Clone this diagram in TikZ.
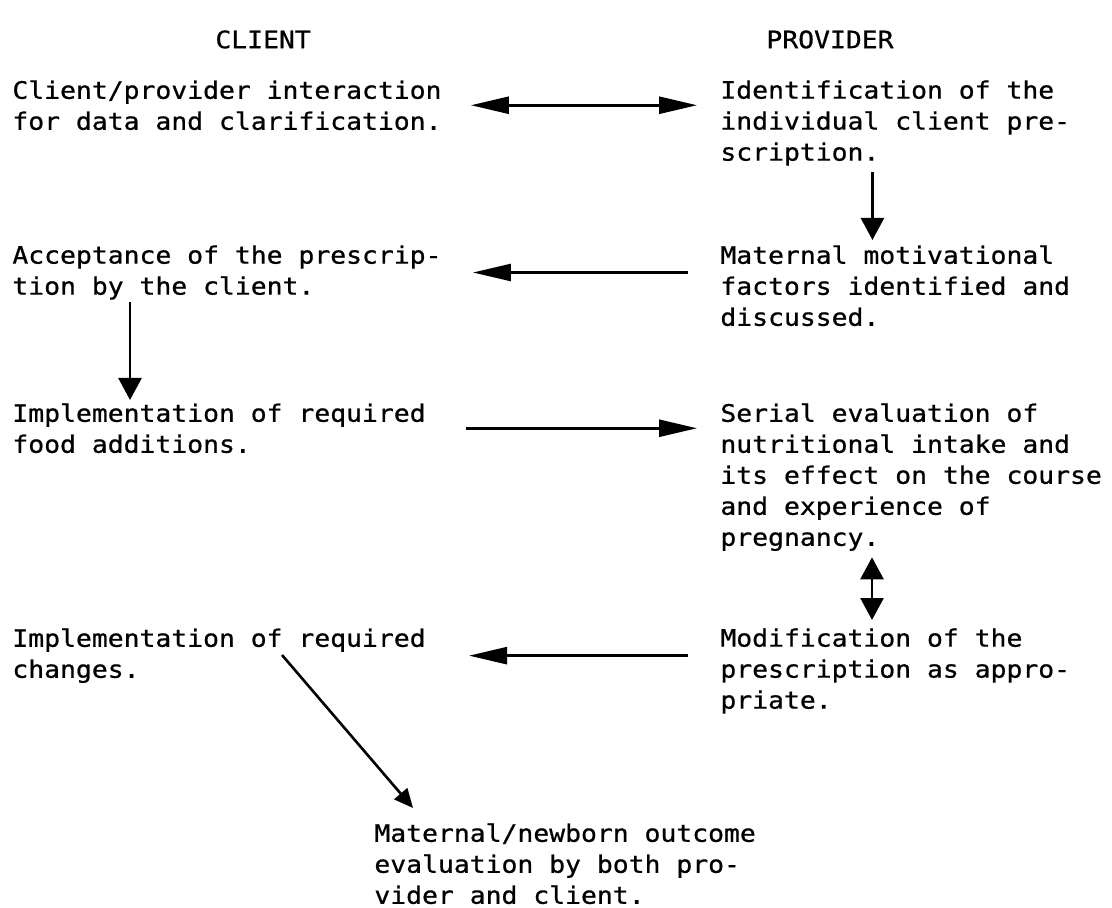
\documentclass[tikz,border=0pt]{standalone}
\usepackage{fontspec}
\newfontfamily\typewr[FakeStretch=1.1,FakeBold=0.8]{DejaVu Sans Mono}
\newcommand\txtfont{\typewr\fontsize{12}{15.5}\selectfont\lineskiplimit=-20pt\relax}
\usetikzlibrary{arrows.meta}
\begin{document}
\begin{tikzpicture}[x = 0.5pt, y = -0.5pt,
        txt/.style = {anchor = north west, inner sep = 0pt, align = left, font = \txtfont},
        harr/.style = {line width = 1.3pt, -{Triangle[length = 19pt, width = 8.5pt]}},
        varr/.style = {line width = 1.3pt, -{Triangle[length = 11pt, width = 11.5pt]}},
        darr/.style = {line width = 1.3pt, -{Triangle[length = 9.5pt, width = 8.5pt]}}]
    \useasboundingbox (0,0) rectangle (1112,908);
    \node[txt] (hcl) at (215,30) {CLIENT};
    \node[txt] (hpr) at (766,30) {PROVIDER};
    \node[txt] (c1) at (12,80) {Client/provider interaction\\for data and clarification.};
    \node[txt] (p1) at (720,80) {Identification of the\\individual client pre-\\scription.};
    \node[txt] (c2) at (12,245) {Acceptance of the prescrip-\\tion by the client.};
    \node[txt] (p2) at (720,245) {Maternal motivational\\factors identified and\\discussed.};
    \node[txt] (c3) at (12,403) {Implementation of required\\food additions.};
    \node[txt] (p3) at (720,403) {Serial evaluation of\\nutritional intake and\\its effect on the course\\and experience of\\pregnancy.};
    \node[txt] (c4) at (12,628) {Implementation of required\\changes.};
    \node[txt] (p4) at (720,628) {Modification of the\\prescription as appro-\\priate.};
    \node[txt] (out) at (374,823) {Maternal/newborn outcome\\evaluation by both pro-\\vider and client.};
    \draw[harr, {Triangle[length = 19pt, width = 8.5pt]}-{Triangle[length = 19pt, width = 8.5pt]}, shorten < = 14.5pt, shorten > = 11.5pt] (c1.east) -- (c1.east -| p1.west);
    \draw[varr, shorten < = 3pt, shorten > = 2.5pt] ([xshift = -11.4pt]p1.south) -- ([xshift = -11.4pt]p2.north);
    \draw[harr, shorten < = 16pt, shorten > = 15.5pt] (c2.east -| p2.west) -- (c2.east);
    \draw[varr, shorten < = 1pt, shorten > = 1.5pt] ([xshift = 59pt]c2.south west) -- ([xshift = 59pt]c3.north west);
    \draw[harr, shorten < = 20pt, shorten > = 11.5pt] (c3.east) -- (c3.east -| p3.west);
    \draw[varr, {Triangle[length = 11pt, width = 11.5pt]}-{Triangle[length = 11pt, width = 11.5pt]}, shorten < = 3pt, shorten > = 4pt] ([xshift = 76pt]p3.south west) -- ([xshift = 76pt]p4.north west);
    \draw[harr, shorten < = 16pt, shorten > = 21.5pt] (c4.east -| p4.west) -- (c4.east);
    \draw[darr] ([xshift = 135pt, yshift = -13.5pt]c4.north west) -- ([xshift = 19.5pt, yshift = 7.5pt]out.north west);
\end{tikzpicture}
\end{document}
